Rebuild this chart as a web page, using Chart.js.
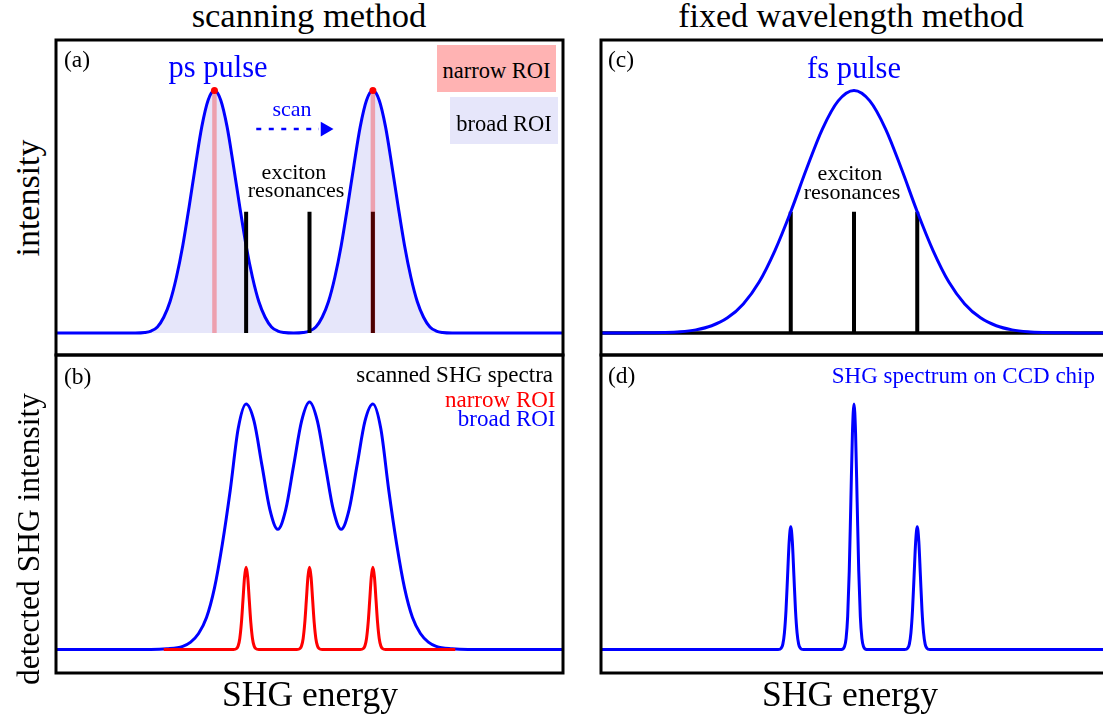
<!DOCTYPE html>
<html>
<head>
<meta charset="utf-8">
<script src="https://cdn.jsdelivr.net/npm/chart.js@4.4.1/dist/chart.umd.min.js"></script>
<style>
  html, body { margin: 0; padding: 0; background: #fff; overflow: hidden; }
  #stage { position: relative; width: 1103px; height: 719px; overflow: hidden; }
  .panel { position: absolute; }
  .lbl { position: absolute; white-space: nowrap; line-height: 1;
         font-family: "Liberation Serif", Tinos, "Times New Roman", Times, "Nimbus Roman", "DejaVu Serif", serif; }
  .roi { position: absolute; }
</style>
</head>
<body>
<div id="stage"></div>
<script>
// Energy axis: resonance spacing is one unit, both columns span -4 … 4
const energyMin = -4;
const energyMax = 4;
const resonanceX = [-1, 0, 1];
const resonanceTop = 0.5;

// Vertical ranges of the two rows (baseline at 0, tallest peak at 1)
const intensityRange = [-0.0907, 1.2082];
const shgRange = [-0.0957, 1.1996];

// (a) picosecond pulse shown at two scan positions
const psPulseX = [-4, -2.75, -2.6, -2.5, -2.4, -2.3, -2.2, -2.1, -2.0, -1.9, -1.8, -1.7, -1.6, -1.5,
  -1.4, -1.3, -1.2, -1.1, -1.0, -0.9, -0.8, -0.7, -0.6, -0.5, -0.4, -0.25,
  -0.1, 0.0, 0.1, 0.2, 0.3, 0.4, 0.5, 0.6, 0.7, 0.8, 0.9, 1.0,
  1.1, 1.2, 1.3, 1.4, 1.5, 1.6, 1.7, 1.8, 1.9, 2.0, 2.1, 2.25, 4];
const psPulseY = [0, 0, 0.002, 0.008, 0.025, 0.065, 0.13, 0.23, 0.36, 0.52, 0.69, 0.85, 0.96, 1,
  0.96, 0.85, 0.69, 0.52, 0.36, 0.23, 0.13, 0.065, 0.025, 0.008, 0.002, 0,
  0.002, 0.008, 0.025, 0.065, 0.13, 0.23, 0.36, 0.52, 0.69, 0.85, 0.96, 1,
  0.96, 0.85, 0.69, 0.52, 0.36, 0.23, 0.13, 0.065, 0.025, 0.008, 0.002, 0, 0];
const psPeakX = [-1.5, 1.0];
const psPeakY = [1, 1];
const scanArrowX = [-0.84, 0.15];
const scanArrowY = [0.841, 0.841];
const scanHeadX = [0.245];
const scanHeadY = [0.841];

// (c) femtosecond pulse centred on the middle resonance
const fsPulseX = [-4, -3.5, -3, -2.75, -2.5, -2.25, -2, -1.75, -1.5, -1.25, -1, -0.75, -0.5, -0.25, 0,
  0.25, 0.5, 0.75, 1, 1.25, 1.5, 1.75, 2, 2.25, 2.5, 2.75, 3, 3.5, 4];
const fsPulseY = [0, 0.0005, 0.002, 0.005, 0.013, 0.03, 0.0625, 0.12, 0.21, 0.34, 0.5, 0.677, 0.841, 0.957, 1,
  0.957, 0.841, 0.677, 0.5, 0.34, 0.21, 0.12, 0.0625, 0.03, 0.013, 0.005, 0.002, 0.0005, 0];

// (b) scanned SHG spectra, broad ROI
const broadX = [-4, -2.5, -2.25, -2, -1.875, -1.75, -1.625, -1.5, -1.375, -1.25, -1.125, -1,
  -0.875, -0.75, -0.625, -0.5, -0.375, -0.25, -0.125, 0,
  0.125, 0.25, 0.375, 0.5, 0.625, 0.75, 0.875, 1,
  1.125, 1.25, 1.375, 1.5, 1.625, 1.75, 1.875, 2, 2.25, 2.5, 4];
const broadY = [0, 0, 0.003, 0.013, 0.03, 0.065, 0.13, 0.25, 0.43, 0.65, 0.90, 1.0,
  0.93, 0.75, 0.57, 0.49, 0.57, 0.75, 0.93, 1.008,
  0.93, 0.75, 0.57, 0.49, 0.57, 0.75, 0.93, 1.0,
  0.90, 0.65, 0.43, 0.25, 0.13, 0.065, 0.03, 0.013, 0.003, 0, 0];

// (b) scanned SHG spectra, narrow ROI
const narrowX = [-2.3, -1.2, -1.15, -1.125, -1.1, -1.075, -1.05, -1.025, -1, -0.975, -0.95, -0.925, -0.9, -0.875, -0.85, -0.8,
  -0.2, -0.15, -0.125, -0.1, -0.075, -0.05, -0.025, 0, 0.025, 0.05, 0.075, 0.1, 0.125, 0.15, 0.2,
  0.8, 0.85, 0.875, 0.9, 0.925, 0.95, 0.975, 1, 1.025, 1.05, 1.075, 1.1, 1.125, 1.15, 1.2, 2.3];
const narrowY = [0, 0, 0.004, 0.015, 0.045, 0.107, 0.2, 0.295, 0.335, 0.295, 0.2, 0.107, 0.045, 0.015, 0.004, 0,
  0, 0.004, 0.015, 0.045, 0.107, 0.2, 0.295, 0.335, 0.295, 0.2, 0.107, 0.045, 0.015, 0.004, 0,
  0, 0.004, 0.015, 0.045, 0.107, 0.2, 0.295, 0.335, 0.295, 0.2, 0.107, 0.045, 0.015, 0.004, 0, 0];

// (d) SHG spectrum recorded on the CCD chip
const ccdX = [-4, -1.2, -1.15, -1.125, -1.1, -1.075, -1.05, -1.025, -1, -0.975, -0.95, -0.925, -0.9, -0.875, -0.85, -0.8,
  -0.2, -0.15, -0.125, -0.1, -0.075, -0.05, -0.025, 0, 0.025, 0.05, 0.075, 0.1, 0.125, 0.15, 0.2,
  0.8, 0.85, 0.875, 0.9, 0.925, 0.95, 0.975, 1, 1.025, 1.05, 1.075, 1.1, 1.125, 1.15, 1.2, 4];
const ccdY = [0, 0, 0.006, 0.022, 0.068, 0.16, 0.30, 0.44, 0.50, 0.44, 0.30, 0.16, 0.068, 0.022, 0.006, 0,
  0, 0.012, 0.045, 0.135, 0.32, 0.60, 0.88, 1.0, 0.88, 0.60, 0.32, 0.135, 0.045, 0.012, 0,
  0, 0.006, 0.022, 0.068, 0.16, 0.30, 0.44, 0.50, 0.44, 0.30, 0.16, 0.068, 0.022, 0.006, 0, 0];

// Colours
const BLUE = '#0000ff';
const RED = '#ff0000';
const NARROW_FILL = 'rgba(255,0,0,0.3)';
const LAVENDER = '#e6e6fa';
const ROI_PINK = '#ffb3b3';

const stage = document.getElementById('stage');

function zip(xs, ys) { return xs.map((x, i) => ({ x, y: ys[i] })); }
function sticks(xs, y0, y1) {
  const pts = [];
  xs.forEach(x => { pts.push({ x, y: y0 }, { x, y: y1 }, { x, y: null }); });
  return pts;
}
function curve(xs, ys, color, width, extra) {
  return Object.assign({
    data: zip(xs, ys), borderColor: color, borderWidth: width, pointRadius: 0, pointHoverRadius: 0,
    cubicInterpolationMode: 'monotone', fill: false, spanGaps: false
  }, extra || {});
}

// Draws the black box around each panel's plotting area
const framePlugin = {
  id: 'frame',
  afterDatasetsDraw(chart) {
    const { ctx, chartArea: a } = chart;
    ctx.save();
    ctx.strokeStyle = '#000';
    ctx.lineWidth = 3;
    ctx.strokeRect(a.left, a.top, a.right - a.left, a.bottom - a.top);
    ctx.restore();
  }
};

function makePanel(box, yRange, datasets) {
  const pad = 4;
  const w = box.right - box.left + 2 * pad;
  const h = box.bottom - box.top + 2 * pad;
  const div = document.createElement('div');
  div.className = 'panel';
  div.style.left = (box.left - pad) + 'px';
  div.style.top = (box.top - pad) + 'px';
  div.style.width = w + 'px';
  div.style.height = h + 'px';
  const canvas = document.createElement('canvas');
  canvas.width = w; canvas.height = h;
  canvas.style.width = w + 'px'; canvas.style.height = h + 'px';
  div.appendChild(canvas);
  stage.appendChild(div);
  return new Chart(canvas, {
    type: 'line',
    data: { datasets },
    options: {
      responsive: false, animation: false, devicePixelRatio: 1, events: [],
      layout: { padding: pad, autoPadding: false },
      plugins: { legend: { display: false }, tooltip: { enabled: false } },
      scales: {
        x: { type: 'linear', min: energyMin, max: energyMax, display: false },
        y: { type: 'linear', min: yRange[0], max: yRange[1], display: false }
      }
    },
    plugins: [framePlugin]
  });
}

function sticksSet(xs, y0, y1, color, width, order) {
  return { data: sticks(xs, y0, y1), borderColor: color, borderWidth: width, borderCapStyle: 'butt',
    pointRadius: 0, pointHoverRadius: 0, spanGaps: false, order };
}

// (a) scanning method: ps pulse
makePanel({ left: 56, top: 40, right: 563, bottom: 355 }, intensityRange, [
  { data: zip(psPeakX, psPeakY), showLine: false, pointRadius: 3.5, pointHoverRadius: 3.5,
    pointBackgroundColor: RED, pointBorderWidth: 0, order: 0 },
  sticksSet(psPeakX, 0, 1, NARROW_FILL, 4.5, 1),
  sticksSet(resonanceX, 0, resonanceTop, '#000', 4, 2),
  { data: zip(scanHeadX, scanHeadY), showLine: false, pointStyle: 'triangle', rotation: 90, pointRadius: 8.5,
    pointHoverRadius: 8.5, pointBackgroundColor: BLUE, pointBorderWidth: 0, order: 3 },
  { data: zip(scanArrowX, scanArrowY), borderColor: BLUE, borderWidth: 2.5, borderDash: [5, 7.5],
    pointRadius: 0, pointHoverRadius: 0, order: 4 },
  curve(psPulseX, psPulseY, BLUE, 3, { fill: 'origin', backgroundColor: LAVENDER, order: 5 })
]);

// (b) scanning method: detected spectra
makePanel({ left: 56, top: 355, right: 563, bottom: 673 }, shgRange, [
  curve(narrowX, narrowY, RED, 3, { order: 0 }),
  curve(broadX, broadY, BLUE, 3, { order: 1 })
]);

// (c) fixed wavelength method: fs pulse
makePanel({ left: 601, top: 40, right: 1107, bottom: 355 }, intensityRange, [
  curve(fsPulseX, fsPulseY, BLUE, 3, { order: 0 }),
  sticksSet(resonanceX, 0, resonanceTop, '#000', 4, 1),
  { data: zip([energyMin, energyMax], [0, 0]), borderColor: '#000', borderWidth: 3.5,
    pointRadius: 0, pointHoverRadius: 0, order: 2 }
]);

// (d) fixed wavelength method: CCD spectrum
makePanel({ left: 601, top: 355, right: 1107, bottom: 673 }, shgRange, [
  curve(ccdX, ccdY, BLUE, 3, { order: 0 })
]);

// ROI legend boxes in (a)
function roiBox(x, y, w, h, color) {
  const d = document.createElement('div');
  d.className = 'roi';
  Object.assign(d.style, { left: x + 'px', top: y + 'px', width: w + 'px', height: h + 'px', background: color });
  stage.appendChild(d);
}
roiBox(437, 45, 119, 47, ROI_PINK);
roiBox(450, 97, 108, 47, LAVENDER);

// Text placed by its baseline
function label(txt, x, base, size, color, align) {
  const d = document.createElement('div');
  d.className = 'lbl';
  d.textContent = txt;
  d.style.fontSize = size + 'px';
  d.style.color = color || '#000';
  d.style.left = x + 'px';
  d.style.top = (base - 0.8375 * size) + 'px';
  if (align === 'center') d.style.transform = 'translateX(-50%)';
  else if (align === 'right') d.style.transform = 'translateX(-100%)';
  stage.appendChild(d);
}
function vlabel(txt, cx, cy, size) {
  const d = document.createElement('div');
  d.className = 'lbl';
  d.textContent = txt;
  d.style.fontSize = size + 'px';
  d.style.left = cx + 'px';
  d.style.top = cy + 'px';
  d.style.transform = 'translate(-50%,-50%) rotate(-90deg)';
  stage.appendChild(d);
}

// Column headings and axis titles
label('scanning method', 309, 27, 34.5, '#000', 'center');
label('fixed wavelength method', 851, 27, 34, '#000', 'center');
label('SHG energy', 310, 707, 35.5, '#000', 'center');
label('SHG energy', 850, 707, 35.5, '#000', 'center');
vlabel('intensity', 28, 198, 34);
vlabel('detected SHG intensity', 29, 539, 31.5);

// Panel (a)
label('(a)', 64, 68, 23.5);
label('ps pulse', 218, 78, 30.5, BLUE, 'center');
label('scan', 292, 116, 22, BLUE, 'center');
label('exciton', 294, 179, 22, '#000', 'center');
label('resonances', 296, 197.5, 22, '#000', 'center');
label('narrow ROI', 496.5, 79, 22.5, '#000', 'center');
label('broad ROI', 504, 131.5, 22.5, '#000', 'center');

// Panel (b)
label('(b)', 64, 385, 23.5);
label('scanned SHG spectra', 553, 382, 23, '#000', 'right');
label('narrow ROI', 555.5, 407, 23, RED, 'right');
label('broad ROI', 555.5, 426, 23, BLUE, 'right');

// Panel (c)
label('(c)', 608, 68, 23.5);
label('fs pulse', 854, 79, 30.5, BLUE, 'center');
label('exciton', 850, 180.5, 22, '#000', 'center');
label('resonances', 852, 199, 22, '#000', 'center');

// Panel (d)
label('(d)', 608, 384, 23.5);
label('SHG spectrum on CCD chip', 1095, 383, 23, BLUE, 'right');
</script>
</body>
</html>
